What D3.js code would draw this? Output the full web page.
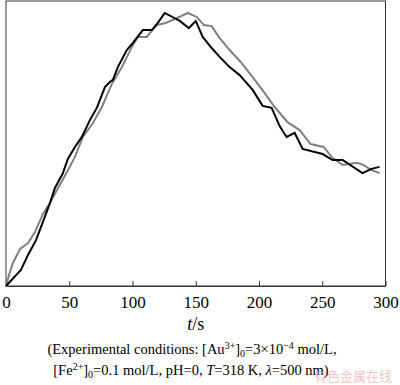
<!DOCTYPE html>
<html>
<head>
  <meta charset="UTF-8">
  <script src="https://d3js.org/d3.v7.min.js"></script>
  <style>
    body { margin: 0; background: #fff; }
  </style>
</head>
<body>
  <svg id="chart" width="400" height="385"></svg>
  <script>
    // time axis ticks
    const xTicks = [0, 50, 100, 150, 200, 250, 300];

    // black curve: t (s) and relative absorbance (arbitrary units)
    const blackT = [0, 11.8, 17.4, 23.7, 29.2, 34.7, 38.7, 45.0, 48.9, 54.5, 60.0, 66.3, 71.8, 78.2, 82.1, 84.5, 88.4,
      95.5, 100.3, 108.2, 115.3, 120.0, 125.5, 137.4, 144.5, 150.0, 155.5, 162.6, 168.9, 176.8, 184.7, 195.0,
      202.9, 210.0, 216.3, 221.8, 228.2, 234.5, 250.3, 258.2, 266.1, 281.8, 288.9, 295.3];
    const blackV = [0, 5.6, 10.9, 16.1, 22.5, 29.1, 34.4, 39.6, 44.6, 48.8, 52.3, 58.2, 62.5, 69.8, 71.6, 72.3, 76.8,
      82.8, 85.3, 89.8, 89.8, 92.3, 95.8, 93.0, 90.5, 93.0, 87.4, 83.5, 80.4, 76.8, 74.0, 68.8,
      63.2, 62.5, 56.1, 52.3, 53.7, 48.1, 46.3, 44.2, 44.2, 39.6, 41.1, 41.8];

    // gray curve
    const grayT = [0, 2.4, 5.5, 11.1, 17.4, 22.9, 29.2, 34.7, 40.3, 48.2, 54.5, 60.8, 68.7, 75.8, 83.7, 91.6, 99.5,
      104.2, 111.3, 119.2, 126.3, 135.0, 143.7, 150.8, 156.3, 162.6, 168.2, 176.8, 185.5, 195.0, 204.5, 212.4,
      222.6, 232.1, 240.8, 251.1, 258.2, 266.1, 277.1, 282.6, 288.9, 295.3];
    const grayV = [0, 3.9, 8.1, 13.0, 15.1, 18.9, 25.3, 29.1, 33.7, 40.0, 45.3, 52.3, 57.2, 62.8, 70.9, 76.8, 83.9,
      87.4, 87.4, 91.6, 92.3, 94.0, 95.8, 94.4, 91.6, 91.2, 87.4, 82.8, 78.6, 73.3, 67.7, 62.8,
      57.5, 54.7, 49.8, 48.8, 44.9, 42.5, 43.2, 42.5, 40.7, 39.6];

    const serif = "'Liberation Serif', 'Times New Roman', serif";
    const svg = d3.select("#chart");
    const plotLeft = 6, plotRight = 385.5, plotTop = 1, plotBottom = 286;

    const x = d3.scaleLinear().domain([0, 300]).range([plotLeft, plotRight]);
    const y = d3.scaleLinear().domain([0, 100]).range([plotBottom, plotTop]);

    // frame
    svg.append("rect")
      .attr("x", plotLeft).attr("y", plotTop)
      .attr("width", plotRight - plotLeft).attr("height", plotBottom - plotTop)
      .attr("fill", "none").attr("stroke", "#333").attr("stroke-width", 1);

    // bottom axis with inward ticks
    const xAxis = d3.axisBottom(x).tickValues(xTicks).tickSizeInner(-5).tickSizeOuter(0).tickPadding(10);
    const gx = svg.append("g").attr("transform", `translate(0,${plotBottom})`).call(xAxis);
    gx.select(".domain").attr("stroke", "#333");
    gx.selectAll(".tick line").attr("stroke", "#333");
    gx.selectAll(".tick text")
      .style("font-family", serif)
      .style("font-size", "17px").attr("fill", "#000");

    const line = d3.line().x(d => x(d[0])).y(d => y(d[1]));

    svg.append("path")
      .datum(d3.zip(grayT, grayV))
      .attr("d", line)
      .attr("fill", "none").attr("stroke", "#808080").attr("stroke-width", 2);

    svg.append("path")
      .datum(d3.zip(blackT, blackV))
      .attr("d", line)
      .attr("fill", "none").attr("stroke", "#000").attr("stroke-width", 2);

    // axis title
    const title = svg.append("text")
      .attr("x", x(150)).attr("y", 330)
      .attr("text-anchor", "middle")
      .style("font-family", serif).style("font-size", "18px");
    title.append("tspan").attr("font-style", "italic").text("t");
    title.append("tspan").text("/s");

    // caption
    const cap1 = svg.append("text").attr("x", 192).attr("y", 354)
      .attr("text-anchor", "middle")
      .style("font-family", serif).style("font-size", "14.5px");
    cap1.append("tspan").text("(Experimental  conditions:  [Au");
    cap1.append("tspan").style("font-size", "10px").attr("dy", -5).text("3+");
    cap1.append("tspan").attr("dy", 5).text("]");
    cap1.append("tspan").style("font-size", "10px").attr("dy", 3).text("0");
    cap1.append("tspan").attr("dy", -3).text("=3×10");
    cap1.append("tspan").style("font-size", "10px").attr("dy", -5).text("−4");
    cap1.append("tspan").attr("dy", 5).text(" mol/L,");

    const cap2 = svg.append("text").attr("x", 191).attr("y", 375)
      .attr("text-anchor", "middle")
      .style("font-family", serif).style("font-size", "14.5px");
    cap2.append("tspan").text("[Fe");
    cap2.append("tspan").style("font-size", "10px").attr("dy", -5).text("2+");
    cap2.append("tspan").attr("dy", 5).text("]");
    cap2.append("tspan").style("font-size", "10px").attr("dy", 3).text("0");
    cap2.append("tspan").attr("dy", -3).text("=0.1 mol/L, pH=0, ");
    cap2.append("tspan").attr("font-style", "italic").text("T");
    cap2.append("tspan").text("=318 K, ");
    cap2.append("tspan").attr("font-style", "italic").text("λ");
    cap2.append("tspan").text("=500 nm)");

    // watermark
    svg.append("text").attr("x", 392).attr("y", 381)
      .attr("text-anchor", "end")
      .style("font-family", "'Noto Sans CJK SC'").style("font-size", "13px")
      .attr("fill", "#e8a0a0").attr("opacity", 0.6)
      .text("有色金属在线");
  </script>
</body>
</html>
